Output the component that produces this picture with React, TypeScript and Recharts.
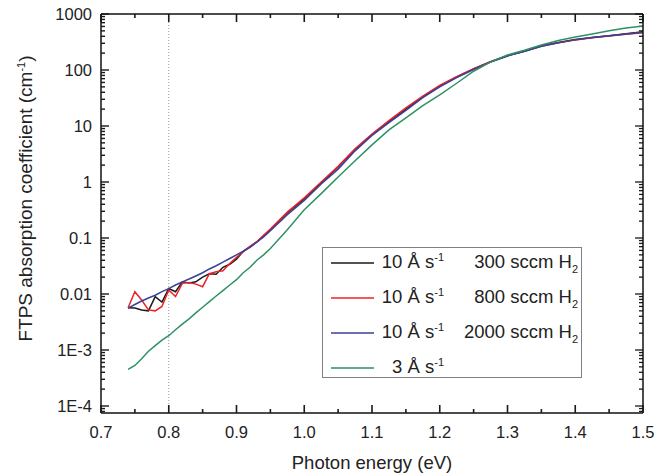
import React from 'react';
import { LineChart, Line, XAxis, YAxis, ReferenceLine, Legend } from 'recharts';

// photon energy grid (eV)
const energy = [
  0.74, 0.75, 0.76, 0.77, 0.78, 0.79, 0.8, 0.81, 0.82, 0.83, 0.84, 0.85, 0.86, 0.87, 0.88, 0.89, 0.9, 0.91,
  0.92, 0.93, 0.94, 0.95, 0.975, 1.0, 1.025, 1.05, 1.075, 1.1, 1.125, 1.15, 1.175, 1.2, 1.225, 1.25, 1.275,
  1.3, 1.325, 1.35, 1.375, 1.4, 1.425, 1.45, 1.475, 1.5,
];

// absorption coefficient (cm^-1)
const rate10h300 = [
  0.0057, 0.0056, 0.0052, 0.005, 0.009, 0.0072, 0.0125, 0.011, 0.0165, 0.0158, 0.0165, 0.02, 0.023, 0.0225,
  0.03, 0.034, 0.042, 0.058, 0.07, 0.085, 0.11, 0.14, 0.28, 0.5, 0.96, 1.85, 3.8, 7.0, 12, 20, 33, 52, 75,
  105, 140, 180, 215, 270, 310, 350, 380, 410, 445, 480,
];
const rate10h800 = [
  0.0057, 0.011, 0.0078, 0.0052, 0.005, 0.006, 0.0118, 0.009, 0.0155, 0.016, 0.015, 0.0135, 0.023, 0.025,
  0.026, 0.035, 0.045, 0.057, 0.071, 0.086, 0.112, 0.145, 0.29, 0.52, 1.0, 1.9, 3.9, 7.2, 12.5, 21, 34, 53,
  76, 106, 140, 180, 215, 265, 305, 345, 375, 405, 435, 465,
];
const rate10h2000 = [
  0.0056, 0.0065, 0.0075, 0.0085, 0.0095, 0.011, 0.0125, 0.0145, 0.0165, 0.0185, 0.021, 0.024, 0.028, 0.032,
  0.037, 0.043, 0.05, 0.058, 0.068, 0.084, 0.105, 0.135, 0.26, 0.47, 0.92, 1.7, 3.6, 6.8, 11.5, 19, 32, 50,
  73, 102, 138, 178, 215, 265, 305, 345, 380, 410, 440, 470,
];
const rate3 = [
  0.00045, 0.00053, 0.0007, 0.00095, 0.0012, 0.0015, 0.0018, 0.0023, 0.0029, 0.0036, 0.0046, 0.0058, 0.0073,
  0.0092, 0.0115, 0.0145, 0.018, 0.024, 0.03, 0.04, 0.05, 0.065, 0.14, 0.32, 0.62, 1.23, 2.4, 4.6, 8.5, 14,
  23, 36, 58, 95, 140, 185, 225, 280, 335, 390, 440, 500, 560, 610,
];

const seriesKeys = ['r300', 'r800', 'r2000', 'r3'];
const seriesRates = ['10', '10', '10', '3'];
const seriesFlows = ['300', '800', '2000', ''];
const seriesColors = ['#1a1a1a', '#ec2227', '#36439a', '#2e9163'];

const xTicks = [0.7, 0.75, 0.8, 0.85, 0.9, 0.95, 1.0, 1.05, 1.1, 1.15, 1.2, 1.25, 1.3, 1.35, 1.4, 1.45, 1.5];
const decades = [1e-4, 1e-3, 0.01, 0.1, 1, 10, 100, 1000];
const decadeLabels = ['1E-4', '1E-3', '0.01', '0.1', '1', '10', '100', '1000'];

const X_MIN = 0.7;
const X_MAX = 1.5;
const Y_MIN = 7.5e-5;
const Y_MAX = 1000;

const yTicks: number[] = [];
[-5, -4, -3, -2, -1, 0, 1, 2].forEach((p) => {
  for (let k = 1; k <= 9; k++) {
    const v = k * Math.pow(10, p);
    if (v >= 7.6e-5 && v <= 1000) yTicks.push(v);
  }
});
yTicks.push(1000);

const data = energy.map((e, i) => ({
  e,
  r300: rate10h300[i],
  r800: rate10h800[i],
  r2000: rate10h2000[i],
  r3: rate3[i],
}));

const FONT = '"Liberation Sans", Arial, sans-serif';
const INK = '#222';
const TICK = '#1a1a1a';

const isMajorX = (v: number) => Math.abs(v * 10 - Math.round(v * 10)) < 1e-6;
const isDecade = (v: number) => Math.abs(Math.log10(v) - Math.round(Math.log10(v))) < 1e-6;

// tick lengths in axis units for the top / right mirror ticks (plot ~542 x 399 px)
const xPerPx = (X_MAX - X_MIN) / 542;
const decPerPx = Math.log10(Y_MAX / Y_MIN) / 399;

const bottomTick = (props: any) => {
  const { x, y, payload } = props;
  const major = isMajorX(payload.value);
  return (
    <g>
      <rect x={x - 0.8} y={y - (major ? 8 : 4)} width={1.6} height={major ? 8 : 4} fill={TICK} />
      {major && (
        <text x={x} y={y + 25} textAnchor="middle" fontSize={16.5} fill={INK} fontFamily={FONT}>
          {payload.value.toFixed(1)}
        </text>
      )}
    </g>
  );
};

const leftTick = (props: any) => {
  const { x, y, payload } = props;
  const major = isDecade(payload.value);
  const idx = decades.findIndex((d) => Math.abs(d - payload.value) / d < 1e-6);
  return (
    <g>
      <rect x={x} y={y - 0.7} width={major ? 8 : 4} height={1.4} fill={TICK} />
      {major && idx >= 0 && (
        <text x={x - 9} y={y} dy="0.36em" textAnchor="end" fontSize={16.5} fill={INK} fontFamily={FONT}>
          {decadeLabels[idx]}
        </text>
      )}
    </g>
  );
};

const XTitle = (props: any) => {
  const vb = props.viewBox;
  return (
    <text x={vb.x + vb.width / 2} y={vb.y + 56} textAnchor="middle" fontSize={18.5} fill={INK} fontFamily={FONT}>
      Photon energy (eV)
    </text>
  );
};

const YTitle = (props: any) => {
  const vb = props.viewBox;
  const cx = 32;
  const cy = vb.y + vb.height / 2 - 15;
  return (
    <text
      x={cx}
      y={cy}
      textAnchor="middle"
      fontSize={19}
      fill={INK}
      fontFamily={FONT}
      transform={`rotate(-90 ${cx} ${cy})`}
    >
      FTPS absorption coefficient (cm
      <tspan dy={-7} fontSize={11}>-1</tspan>
      <tspan dy={7}>)</tspan>
    </text>
  );
};

const LegendBox = () => (
  <div
    style={{
      width: 258,
      height: 129,
      border: '1px solid #808080',
      background: '#fff',
      fontFamily: FONT,
      fontSize: 18.5,
      color: INK,
      boxSizing: 'content-box',
    }}
  >
    {seriesKeys.map((k, i) => (
      <div key={k} style={{ display: 'flex', alignItems: 'center', height: 35, marginTop: i === 0 ? -3 : 0 }}>
        <svg width={51} height={10} style={{ flex: 'none' }}>
          <line x1={8} x2={51} y1={5} y2={5} stroke={seriesColors[i]} strokeWidth={1.5} />
        </svg>
        <div style={{ width: 70, textAlign: 'right', whiteSpace: 'nowrap' }}>
          {seriesRates[i]} Å s<sup style={{ fontSize: 11 }}>-1</sup>
        </div>
        <div style={{ width: 134, textAlign: 'right', whiteSpace: 'nowrap' }}>
          {seriesFlows[i] && (
            <>
              {seriesFlows[i]} sccm H<sub style={{ fontSize: 11 }}>2</sub>
            </>
          )}
        </div>
      </div>
    ))}
  </div>
);

export default function App() {
  return (
    <div style={{ position: 'absolute', left: 0, top: 0, background: '#fff' }}>
      <LineChart width={669} height={475} data={data} margin={{ top: 13, right: 25, left: 0, bottom: 0 }}>
        <XAxis
          dataKey="e"
          type="number"
          domain={[X_MIN, X_MAX]}
          allowDataOverflow
          ticks={xTicks}
          interval={0}
          tick={bottomTick}
          tickLine={false}
          tickSize={0}
          tickMargin={0}
          height={62}
          axisLine={{ stroke: '#111', strokeWidth: 1.5 }}
          label={<XTitle />}
        />
        <XAxis
          xAxisId="top"
          orientation="top"
          dataKey="e"
          type="number"
          domain={[X_MIN, X_MAX]}
          allowDataOverflow
          ticks={xTicks}
          interval={0}
          tick={false}
          tickLine={false}
          height={1}
          axisLine={{ stroke: '#111', strokeWidth: 1.5 }}
        />
        <YAxis
          scale="log"
          type="number"
          domain={[Y_MIN, Y_MAX]}
          allowDataOverflow
          ticks={yTicks}
          interval={0}
          tick={leftTick}
          tickLine={false}
          tickSize={0}
          tickMargin={0}
          width={101}
          axisLine={{ stroke: '#111', strokeWidth: 1.5 }}
          label={<YTitle />}
        />
        <YAxis
          yAxisId="right"
          orientation="right"
          scale="log"
          type="number"
          domain={[Y_MIN, Y_MAX]}
          allowDataOverflow
          ticks={yTicks}
          interval={0}
          tick={false}
          tickLine={false}
          width={1}
          axisLine={{ stroke: '#111', strokeWidth: 1.5 }}
        />
        <ReferenceLine x={0.8} stroke="#999" strokeDasharray="1 2" strokeWidth={1} />
        {xTicks.map((v) => {
          const f = Math.pow(10, (isMajorX(v) ? 8 : 4) * decPerPx);
          return (
            <ReferenceLine
              key={'xt' + v}
              segment={[{ x: v, y: Y_MAX }, { x: v, y: Y_MAX / f }]}
              stroke={TICK}
              strokeWidth={1.6}
              ifOverflow="visible"
            />
          );
        })}
        {yTicks.map((v) => {
          const d = (isDecade(v) ? 8 : 4) * xPerPx;
          return (
            <ReferenceLine
              key={'yt' + v}
              segment={[{ x: X_MAX, y: v }, { x: X_MAX - d, y: v }]}
              stroke={TICK}
              strokeWidth={1.3}
              ifOverflow="visible"
            />
          );
        })}
        {seriesKeys.map((k, i) => (
          <Line
            key={k}
            dataKey={k}
            type="linear"
            stroke={seriesColors[i]}
            strokeWidth={1.5}
            dot={false}
            activeDot={false}
            isAnimationActive={false}
          />
        ))}
        <Legend
          layout="vertical"
          align="center"
          verticalAlign="middle"
          content={<LegendBox />}
          wrapperStyle={{ position: 'absolute', left: 322, top: 247, width: 260, height: 131, margin: 0 }}
        />
      </LineChart>
    </div>
  );
}
